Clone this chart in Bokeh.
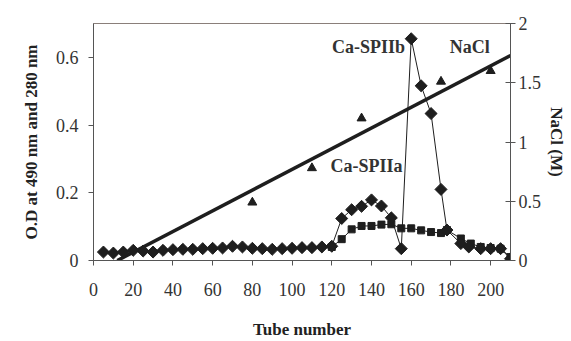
from bokeh.plotting import figure
from bokeh.models import Range1d, LinearAxis, FixedTicker, Label
from bokeh.embed import file_html
from bokeh.resources import INLINE
import math

# O.D 490 nm (diamonds)
od490_x = [5, 10, 15, 20, 25, 30, 35, 40, 45, 50, 55, 60, 65, 70, 75, 80, 85, 90, 95, 100,
           105, 110, 115, 120, 125, 130, 135, 140, 145, 150, 155, 160, 165, 170, 175, 178,
           185, 189, 195, 200, 205, 210]
od490_y = [0.025, 0.022, 0.025, 0.03, 0.028, 0.025, 0.03, 0.032, 0.033, 0.033, 0.035, 0.036,
           0.037, 0.042, 0.04, 0.036, 0.035, 0.033, 0.035, 0.036, 0.038, 0.038, 0.04, 0.042,
           0.124, 0.15, 0.16, 0.179, 0.161, 0.126, 0.035, 0.655, 0.516, 0.434, 0.21, 0.09,
           0.05, 0.04, 0.035, 0.035, 0.035, 0.005]
# O.D 280 nm (squares)
od280_x = [120, 125, 130, 135, 140, 145, 150, 155, 160, 165, 170, 175, 178, 185, 190, 195, 200, 205, 210]
od280_y = [0.04, 0.063, 0.092, 0.102, 0.102, 0.106, 0.107, 0.095, 0.095, 0.089, 0.084, 0.081,
           0.09, 0.065, 0.05, 0.04, 0.037, 0.035, 0.01]
# NaCl measured (triangles) and gradient line
nacl_pts_x = [80, 110, 135, 175, 200]
nacl_pts_y = [0.49, 0.78, 1.2, 1.51, 1.6]
nacl_line_x = [12, 210]
nacl_line_y = [0.0, 1.73]

x_ticks = [0, 20, 40, 60, 80, 100, 120, 140, 160, 180, 200]
left_ticks = [0, 0.2, 0.4, 0.6]
right_ticks = [0, 0.5, 1, 1.5, 2]

FONT = "Liberation Serif"
INK = "#1e1e1e"

p = figure(width=571, height=341, output_backend="svg", toolbar_location=None,
           x_range=Range1d(0, 210), y_range=Range1d(0, 0.7),
           min_border_left=93, min_border_right=61, min_border_top=23, min_border_bottom=79)
p.extra_y_ranges = {"nacl": Range1d(0, 2)}
p.grid.visible = False
p.background_fill_color = "white"
p.outline_line_color = "#8a7f7a"
p.outline_line_width = 1

def style(ax):
    ax.axis_line_color = "#555555"
    ax.major_tick_line_color = "#555555"
    ax.minor_tick_line_color = None
    ax.major_label_text_font = FONT
    ax.major_label_text_font_size = "18px"
    ax.major_label_text_color = "#333333"
    ax.axis_label_text_font = FONT
    ax.axis_label_text_font_size = "17px"
    ax.axis_label_text_font_style = "bold"
    ax.axis_label_text_color = "#222222"

xa = p.xaxis[0]
style(xa)
xa.ticker = FixedTicker(ticks=x_ticks)
xa.major_tick_in = 0
xa.major_tick_out = 5
xa.major_label_standoff = 17
xa.axis_label = "Tube number"
xa.axis_label_standoff = 21

ya = p.yaxis[0]
style(ya)
ya.ticker = FixedTicker(ticks=left_ticks)
ya.major_label_overrides = {0: "0"}
ya.major_tick_in = 0
ya.major_tick_out = 5
ya.major_label_standoff = 10
ya.axis_label = "O.D at 490 nm and 280 nm"
ya.axis_label_standoff = 12

ra = LinearAxis(y_range_name="nacl", axis_label="NaCl (M)")
style(ra)
ra.ticker = FixedTicker(ticks=right_ticks)
ra.major_label_overrides = {0: "0", 0.5: "0.5", 1: "1", 1.5: "1.5", 2: "2"}
ra.major_tick_in = 5
ra.major_tick_out = 5
ra.major_label_standoff = 3
ra.axis_label_standoff = 3
p.add_layout(ra, "right")

# gradient line
p.line(nacl_line_x, nacl_line_y, y_range_name="nacl", line_color=INK, line_width=3.5)
p.scatter(nacl_pts_x, nacl_pts_y, y_range_name="nacl", marker="triangle", size=9,
          fill_color=INK, line_color=INK)

# 280 nm squares
p.line(od280_x, od280_y, line_color=INK, line_width=1)
p.scatter(od280_x, od280_y, marker="square", size=7, fill_color=INK, line_color=INK)

# 490 nm diamonds
p.line(od490_x, od490_y, line_color=INK, line_width=1)
p.scatter(od490_x, od490_y, marker="square", angle=math.pi / 4, size=8.5,
          fill_color=INK, line_color=INK)

for txt, x, y in [("Ca-SPIIb", 138.5, 0.632), ("NaCl", 189.5, 0.632), ("Ca-SPIIa", 137.5, 0.279)]:
    p.add_layout(Label(x=x, y=y, text=txt, text_font=FONT, text_font_size="18px",
                       text_font_style="bold", text_color="#333333",
                       text_align="center", text_baseline="middle"))

open("out.html", "w").write(file_html(p, INLINE))
